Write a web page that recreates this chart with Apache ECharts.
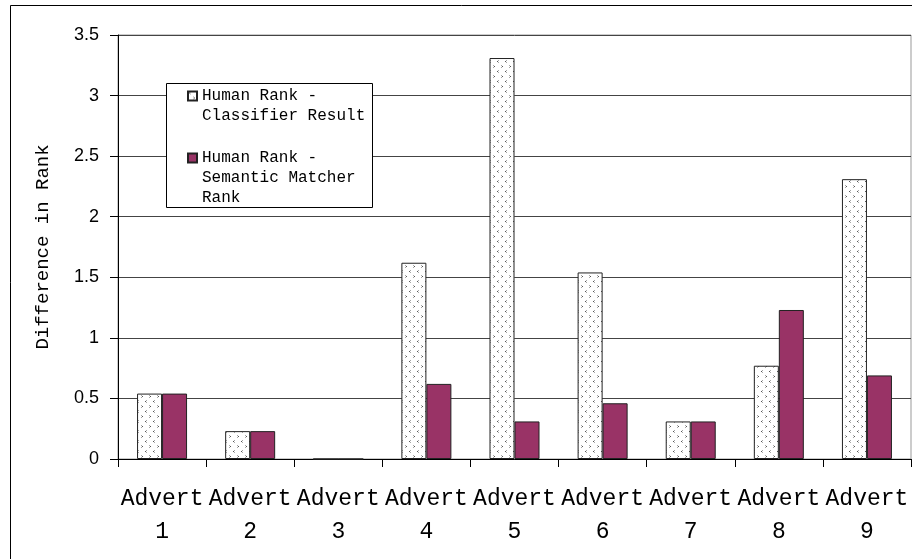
<!DOCTYPE html>
<html>
<head>
<meta charset="utf-8">
<script src="https://cdn.jsdelivr.net/npm/echarts@6/dist/echarts.min.js"></script>
<style>
  html, body { margin: 0; padding: 0; background: #fff; }
  #chart { width: 912px; height: 559px; }
</style>
</head>
<body>
<div id="chart"></div>
<script>
// Rank differences per advert
const categories = ['Advert 1', 'Advert 2', 'Advert 3', 'Advert 4', 'Advert 5', 'Advert 6', 'Advert 7', 'Advert 8', 'Advert 9'];
const classifierDiff = [0.54, 0.23, 0, 1.62, 3.31, 1.54, 0.31, 0.77, 2.31];
const matcherDiff = [0.54, 0.23, 0, 0.62, 0.31, 0.46, 0.31, 1.23, 0.69];
const seriesNames = ['Human Rank -\nClassifier Result', 'Human Rank -\nSemantic Matcher\nRank'];
const yTicks = { min: 0, max: 3.5, step: 0.5 };

// Dotted fill tile for the classifier bars
function dottedTile() {
  const c = document.createElement('canvas');
  c.width = 8; c.height = 10;
  const g = c.getContext('2d');
  g.fillStyle = '#ffffff';
  g.fillRect(0, 0, 8, 10);
  g.fillStyle = '#a8a8a8';
  [[2, 0], [1, 1], [2, 2], [5, 5], [6, 6], [5, 7]].forEach(p => g.fillRect(p[0], p[1], 1, 1));
  g.fillStyle = '#555';
  [[1, 1], [6, 6]].forEach(p => g.fillRect(p[0], p[1], 1, 1));
  return c;
}

const mono = '"Courier New", "Liberation Mono", monospace';
const chart = echarts.init(document.getElementById('chart'), null, { renderer: 'canvas' });

// Legend text is padded with blank lines so the swatch sits beside the first line
const legendLabel = (name, lead) => '\n'.repeat(lead) + name;

chart.setOption({
  animation: false,
  backgroundColor: '#fff',
  graphic: [
    { type: 'rect', shape: { x: 10.5, y: 5.5, width: 920, height: 580 }, style: { fill: 'none', stroke: '#000', lineWidth: 1 }, z: 1, silent: true },
    { type: 'rect', shape: { x: 166.5, y: 83.5, width: 206, height: 124 }, style: { fill: '#fff', stroke: '#000', lineWidth: 1 }, z: 3, silent: true }
  ],
  grid: { left: 118, right: 1, top: 35, bottom: 100, show: true, borderColor: '#999', borderWidth: 1, backgroundColor: 'transparent' },
  legend: [
    {
      data: [seriesNames[0]], orient: 'vertical', left: 187, top: 66, padding: 0, z: 5,
      itemWidth: 9, itemHeight: 9, icon: 'rect',
      formatter: n => legendLabel(n, 1),
      textStyle: { fontFamily: mono, fontSize: 16, lineHeight: 20, color: '#000' }
    },
    {
      data: [seriesNames[1]], orient: 'vertical', left: 187, top: 108, padding: 0, z: 5,
      itemWidth: 9, itemHeight: 9, icon: 'rect',
      formatter: n => legendLabel(n, 2),
      textStyle: { fontFamily: mono, fontSize: 16, lineHeight: 20, color: '#000' }
    }
  ],
  xAxis: {
    type: 'category',
    data: categories,
    axisLine: { lineStyle: { color: '#000', width: 1 } },
    axisTick: { show: true, length: 8, lineStyle: { color: '#000' } },
    axisLabel: {
      interval: 0, margin: 23, fontFamily: mono, fontSize: 23, lineHeight: 33, color: '#000',
      formatter: v => v.replace(' ', '\n')
    },
    splitLine: { show: false }
  },
  yAxis: {
    type: 'value',
    min: yTicks.min, max: yTicks.max, interval: yTicks.step,
    name: 'Difference in Rank', nameLocation: 'middle', nameGap: 66, nameRotate: 90,
    nameTextStyle: { fontFamily: mono, fontSize: 19, color: '#000' },
    axisLine: { show: true, lineStyle: { color: '#000', width: 1 } },
    axisTick: { show: true, length: 8, lineStyle: { color: '#000' } },
    axisLabel: { margin: 19, fontFamily: '"Liberation Sans", Arial, sans-serif', fontSize: 18, color: '#000' },
    splitLine: { show: true, lineStyle: { color: '#444', width: 1 } }
  },
  series: [
    {
      name: seriesNames[0], type: 'bar', data: classifierDiff, barWidth: 25, barGap: '0%', z: 2,
      itemStyle: { color: { image: dottedTile(), repeat: 'repeat' }, borderColor: '#222', borderWidth: 1 }
    },
    {
      name: seriesNames[1], type: 'bar', data: matcherDiff, barWidth: 25, barGap: '0%', z: 2,
      itemStyle: { color: '#993366', borderColor: '#222', borderWidth: 1 }
    }
  ]
});
</script>
</body>
</html>
